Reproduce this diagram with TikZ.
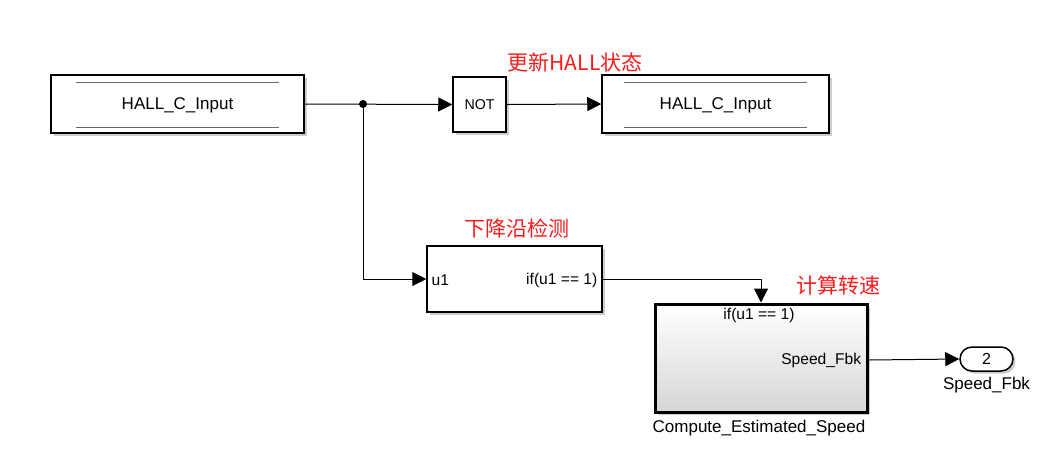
\documentclass[tikz,border=0pt]{standalone}
\usepackage{fontspec}
\setmainfont{Liberation Sans}
\newfontfamily\cjk{Noto Sans CJK SC}
\usetikzlibrary{arrows.meta,calc,shadows}
\definecolor{Ink}{HTML}{000000}
\definecolor{Note}{HTML}{FF1A1A}
\definecolor{Shade}{HTML}{D6D6D6}
\tikzset{blk/.style={draw=Ink,line width=.75pt,fill=white,drop shadow={shadow xshift=1.3pt,shadow yshift=-1.3pt,opacity=.4},inner sep=0pt,text depth=.4pt,font=\fontsize{8.5}{10}\selectfont},port/.style={font=\fontsize{7.8}{9}\selectfont,inner sep=0pt},sig/.style={-{Triangle[length=7pt,width=7pt]},line width=.5pt,draw=Ink},note/.style={font=\cjk\fontsize{10.5}{12}\selectfont,text=Note},blkname/.style={font=\fontsize{8.5}{10}\selectfont}}
\begin{document}
\begin{tikzpicture}[x=0.5pt,y=-0.5pt]
\useasboundingbox (0,0) rectangle (1060,462);
\node[blk,minimum width=126.5pt,minimum height=29pt] (hallin) at (177.5,104) {HALL\_C\_Input};
\draw[line width=.5pt,gray!80!black] ($(hallin.north west)+(26,8)$)--($(hallin.north east)+(-26,8)$) ($(hallin.south west)+(26,-6)$)--($(hallin.south east)+(-26,-6)$);
\node[blk,minimum width=26.5pt,minimum height=27.5pt,font=\fontsize{7.1}{9}\selectfont] (not) at (479.5,104.5) {NOT};
\node[blk,minimum width=113.5pt,minimum height=29pt] (hallout) at (715.5,104) {HALL\_C\_Input};
\draw[line width=.5pt,gray!80!black] ($(hallout.north west)+(23,8)$)--($(hallout.north east)+(-23,8)$) ($(hallout.south west)+(23,-6)$)--($(hallout.south east)+(-23,-6)$);
\node[note] (lblnot) at (575,62) {更新HALL状态};
\node[blk,minimum width=87.5pt,minimum height=33pt] (edge) at (514.5,279) {};
\node[port,anchor=west] (edgein) at ($(edge.west)+(5,1)$) {u1};
\node[port,anchor=east] (edgeout) at ($(edge.east)+(-5,1)$) {if(u1 == 1)};
\node[note] (lbledge) at (517,228) {下降沿检测};
\node[blk,line width=1.5pt,top color=white,bottom color=Shade,minimum width=106pt,minimum height=54pt] (speed) at (761,358) {};
\node[port] (speedtrig) at ($(speed.north)+(-2,13)$) {if(u1 == 1)};
\node[port,anchor=east] (speedout) at ($(speed.east)+(-7,2)$) {Speed\_Fbk};
\node[blkname] (speedname) at (759,428) {Compute\_Estimated\_Speed};
\node[note] (lblspeed) at (838,285) {计算转速};
\node[blk,rounded corners=6pt,minimum width=26.5pt,minimum height=12pt,font=\fontsize{8}{9}\selectfont] (outp) at (986.5,359) {2};
\node[blkname] (outname) at (986.5,385) {Speed\_Fbk};
\coordinate (jn) at (363,104);
\draw[sig] (hallin.east)--(not.west);
\draw[sig] (not.east)--(hallout.west);
\fill[Ink] (jn) circle (2pt);
\draw[sig] (jn)|-(edge.west);
\draw[sig] (edge.east)-|(speed.north);
\draw[sig] (speed.east|-speedout)--(outp.west);
\end{tikzpicture}
\end{document}
